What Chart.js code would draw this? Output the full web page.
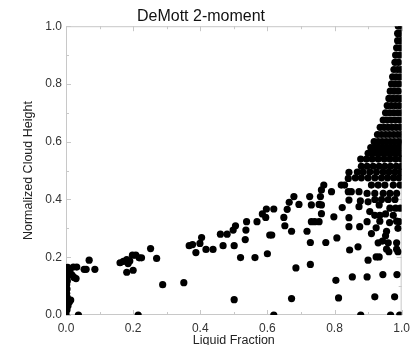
<!DOCTYPE html>
<html>
<head>
<meta charset="utf-8">
<script src="https://cdn.jsdelivr.net/npm/chart.js@4.4.1/dist/chart.umd.min.js"></script>
<style>
  html, body { margin: 0; padding: 0; background: #fff; }
  #wrap { width: 416px; height: 345px; }
</style>
</head>
<body>
<div id="wrap"><canvas id="chart" width="416" height="345"></canvas></div>
<script>
// [liquid fraction, normalized cloud height]
const nearZeroPts = [
  [0.000, 0.003], [0.037, 0.000], [0.003, 0.018], [0.006, 0.032], [0.010, 0.045],
  [0.014, 0.052], [0.004, 0.060], [0.002, 0.075], [0.003, 0.090], [0.002, 0.105],
  [0.004, 0.118], [0.002, 0.130], [0.006, 0.142], [0.003, 0.155], [0.005, 0.165],
  [0.012, 0.148], [0.018, 0.138], [0.024, 0.130], [0.030, 0.126], [0.022, 0.166],
  [0.032, 0.166], [0.054, 0.158], [0.060, 0.158], [0.069, 0.190], [0.086, 0.158]
]

const lowCluster = [
  [0.161, 0.181], [0.171, 0.186], [0.181, 0.192], [0.185, 0.178], [0.190, 0.187],
  [0.198, 0.207], [0.208, 0.207], [0.218, 0.198], [0.225, 0.198], [0.181, 0.148],
  [0.200, 0.155], [0.252, 0.230], [0.270, 0.196], [0.288, 0.105], [0.215, 0.000]
]

const midBand = [
  [0.351, 0.112], [0.367, 0.240], [0.377, 0.244], [0.387, 0.216], [0.399, 0.248],
  [0.404, 0.268], [0.417, 0.227], [0.438, 0.227], [0.460, 0.280], [0.480, 0.280],
  [0.468, 0.240], [0.498, 0.294], [0.505, 0.309], [0.501, 0.240], [0.501, 0.053],
  [0.520, 0.199], [0.536, 0.294], [0.538, 0.323], [0.534, 0.261], [0.563, 0.199],
  [0.569, 0.323], [0.585, 0.350], [0.597, 0.367], [0.595, 0.338], [0.607, 0.277],
  [0.613, 0.277], [0.600, 0.212], [0.619, 0.367], [0.619, 0.000]
]

const upperSparse = [
  [0.649, 0.338], [0.652, 0.309], [0.672, 0.057], [0.685, 0.163], [0.728, 0.175],
  [0.659, 0.366], [0.665, 0.390], [0.679, 0.410], [0.694, 0.383], [0.672, 0.290],
  [0.718, 0.290], [0.728, 0.251], [0.726, 0.410], [0.731, 0.381], [0.754, 0.383],
  [0.761, 0.381], [0.758, 0.410], [0.761, 0.433], [0.768, 0.450], [0.761, 0.351],
  [0.731, 0.323], [0.741, 0.323], [0.754, 0.323], [0.774, 0.251], [0.791, 0.427],
  [0.798, 0.340], [0.807, 0.267], [0.804, 0.120], [0.812, 0.059], [0.820, 0.450],
  [0.830, 0.450], [0.823, 0.372], [0.843, 0.337], [0.843, 0.306], [0.843, 0.398],
  [0.841, 0.427], [0.850, 0.427], [0.841, 0.473], [0.843, 0.494], [0.845, 0.225],
  [0.853, 0.132], [0.873, 0.427], [0.877, 0.395], [0.873, 0.375], [0.870, 0.236],
  [0.875, 0.306], [0.897, 0.323], [0.897, 0.132], [0.900, 0.190], [0.900, 0.392],
  [0.897, 0.421], [0.905, 0.358], [0.910, 0.282], [0.920, 0.063], [0.924, 0.201],
  [0.933, 0.201], [0.924, 0.302], [0.933, 0.381], [0.943, 0.256], [0.944, 0.140],
  [0.952, 0.274], [0.952, 0.350], [0.962, 0.219], [0.964, 0.320], [0.979, 0.063],
  [0.986, 0.140], [0.989, 0.219], [0.989, 0.300], [0.992, 0.323], [0.878, 0.000],
  [0.967, 0.000], [0.994, 0.000], [0.910, 0.450], [0.930, 0.450], [0.950, 0.450],
  [0.975, 0.450], [0.995, 0.450], [0.920, 0.421], [0.945, 0.421], [0.965, 0.421],
  [0.985, 0.421], [0.920, 0.400], [0.940, 0.400], [0.960, 0.400], [0.980, 0.400],
  [0.965, 0.370], [0.982, 0.370], [0.996, 0.370], [0.920, 0.345], [0.935, 0.345],
  [0.975, 0.345], [0.935, 0.325], [0.985, 0.325], [0.955, 0.290], [0.930, 0.250],
  [0.960, 0.250], [0.985, 0.250], [0.955, 0.228], [0.985, 0.228]
]

// dense core near liquid fraction 1: [height, liquid fractions in that row]
const denseRows = [
  [0.475, [0.862, 0.880, 0.900, 0.920, 0.940, 0.958, 0.976, 0.992]],
  [0.495, [0.868, 0.885, 0.905, 0.925, 0.945, 0.962, 0.980, 0.996]],
  [0.515, [0.880, 0.897, 0.915, 0.933, 0.950, 0.967, 0.984, 0.999]],
  [0.540, [0.878, 0.895, 0.912, 0.930, 0.948, 0.965, 0.982, 0.998]],
  [0.560, [0.900, 0.912, 0.924, 0.936, 0.948, 0.960, 0.972, 0.984, 0.996]],
  [0.580, [0.908, 0.920, 0.932, 0.944, 0.956, 0.968, 0.980, 0.992]],
  [0.600, [0.918, 0.930, 0.942, 0.954, 0.966, 0.978, 0.990, 1.000]],
  [0.625, [0.928, 0.940, 0.952, 0.964, 0.976, 0.988, 0.999]],
  [0.650, [0.936, 0.948, 0.960, 0.972, 0.984, 0.996]],
  [0.675, [0.945, 0.957, 0.969, 0.981, 0.993]],
  [0.700, [0.952, 0.964, 0.976, 0.988, 0.999]],
  [0.725, [0.957, 0.969, 0.981, 0.993]],
  [0.750, [0.962, 0.974, 0.986, 0.998]],
  [0.775, [0.966, 0.978, 0.990]],
  [0.800, [0.970, 0.981, 0.992]],
  [0.825, [0.973, 0.984, 0.995]],
  [0.850, [0.977, 0.988, 0.998]],
  [0.875, [0.980, 0.991]],
  [0.900, [0.982, 0.993]],
  [0.925, [0.985, 0.996]],
  [0.950, [0.988, 0.998]],
  [0.975, [0.988, 0.997]],
  [1.000, [0.990, 1.000]]
]

const labelTicks = [0, 0.2, 0.4, 0.6, 0.8, 1.0]
const minorTicks = [0, 0.1, 0.2, 0.3, 0.4, 0.5, 0.6, 0.7, 0.8, 0.9, 1.0]

const FONT = "'Liberation Sans', Arial, Helvetica, sans-serif"

const points = [
  ...nearZeroPts, ...lowCluster, ...midBand, ...upperSparse,
  ...denseRows.flatMap(([h, xs]) => xs.map(f => [f, h]))
].map(([x, y]) => ({ x, y }))

// light grey box with small inward ticks on all four sides
const framePlugin = {
  id: 'frame',
  beforeDatasetsDraw(chart) {
    const { ctx, chartArea: a, scales: { x, y } } = chart
    ctx.save()
    ctx.strokeStyle = '#c8c8c8'
    ctx.lineWidth = 1
    ctx.strokeRect(a.left + 0.5, a.top + 0.5, a.right - a.left - 1, a.bottom - a.top - 1)
    ctx.beginPath()
    minorTicks.forEach(v => {
      const len = labelTicks.includes(v) ? 5 : 3
      const px = Math.round(x.getPixelForValue(v)) + 0.5
      const py = Math.round(y.getPixelForValue(v)) + 0.5
      ctx.moveTo(px, a.bottom); ctx.lineTo(px, a.bottom - len)
      ctx.moveTo(px, a.top); ctx.lineTo(px, a.top + len)
      ctx.moveTo(a.left, py); ctx.lineTo(a.left + len, py)
      ctx.moveTo(a.right, py); ctx.lineTo(a.right - len, py)
    })
    ctx.stroke()
    ctx.restore()
  }
}

const ctx = document.getElementById('chart').getContext('2d')
new Chart(ctx, {
  type: 'scatter',
  data: {
    datasets: [{
      data: points,
      pointRadius: 3.6,
      pointHoverRadius: 3.6,
      backgroundColor: '#000',
      borderWidth: 0,
      clip: 0,
    }]
  },
  options: {
    responsive: false,
    animation: false,
    events: [],
    layout: { padding: { left: 0, right: 14, top: 0, bottom: 0 } },
    plugins: {
      legend: { display: false },
      tooltip: { enabled: false },
      title: {
        display: true,
        text: 'DeMott 2-moment',
        color: '#111',
        font: { family: FONT, size: 16, weight: 'normal', lineHeight: 1.2 },
        padding: { top: 7, bottom: 0 },
      }
    },
    scales: {
      x: {
        type: 'linear', min: 0, max: 1,
        grid: { display: false, drawTicks: false },
        border: { display: false },
        afterBuildTicks: s => { s.ticks = labelTicks.map(value => ({ value })) },
        ticks: {
          padding: 6, color: '#333', maxRotation: 0,
          font: { family: FONT, size: 12 },
          callback: v => v.toFixed(1),
        },
        title: {
          display: true, text: 'Liquid Fraction', color: '#222',
          font: { family: FONT, size: 12.5, lineHeight: 1 },
          padding: { top: 0, bottom: -1.5 },
        },
        afterFit: s => { s.height = 30 },
      },
      y: {
        type: 'linear', min: 0, max: 1,
        grid: { display: false, drawTicks: false },
        border: { display: false },
        afterBuildTicks: s => { s.ticks = labelTicks.map(value => ({ value })) },
        ticks: {
          padding: 4, color: '#333',
          font: { family: FONT, size: 12 },
          callback: v => v.toFixed(1),
        },
        title: {
          display: true, text: 'Normalized Cloud Height', color: '#222',
          font: { family: FONT, size: 12.5, lineHeight: 1 },
          padding: { top: 22.5, bottom: 0 },
        },
        afterFit: s => { s.width = 66 },
      }
    }
  },
  plugins: [framePlugin]
})
</script>
</body>
</html>
